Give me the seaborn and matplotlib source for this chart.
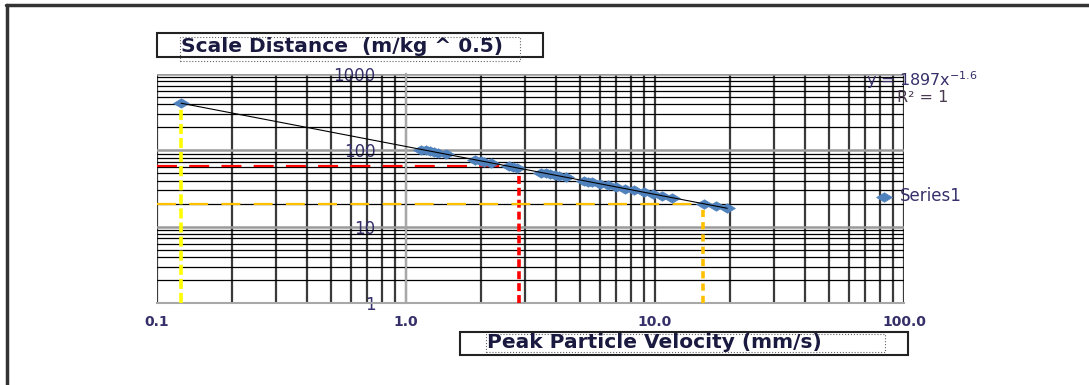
import numpy as np
import matplotlib
matplotlib.use("Agg")
import matplotlib.pyplot as plt
from matplotlib.patches import Rectangle
from matplotlib.lines import Line2D
import seaborn as sns
import pandas as pd

# data (PPV in mm/s, scaled distance in m/kg^0.5)
ppv = [0.125, 1.15, 1.2, 1.25, 1.3, 1.35, 1.45, 1.9, 2.0, 2.05, 2.2, 2.6, 2.7, 2.8,
       3.5, 3.65, 3.8, 3.95, 4.1, 4.4, 5.2, 5.4, 5.6, 6.0, 6.5, 7.0, 7.6, 8.2,
       9.0, 9.8, 10.7, 11.7, 15.8, 17.5, 19.5]
scaled_dist = [420, 102.5, 99.9, 97.4, 95.0, 92.8, 88.7, 74.9, 72.5, 71.4, 68.4, 61.6, 60.1, 58.8,
               51.1, 49.8, 48.6, 47.4, 46.3, 44.3, 39.9, 39.0, 38.1, 36.5, 34.7, 33.2, 31.5, 30.0,
               28.3, 26.9, 25.4, 24.1, 19.9, 18.7, 17.5]

# guide lines (yellow / red / orange)
yellow_x = 0.125
yellow_y = 420
red_x, red_y = 2.85, 62
orange_x, orange_y = 15.6, 20

x_ticks = [0.1, 1, 10, 100]
x_labels = ["0.1", "1.0", "10.0", "100.0"]
y_ticks = [1, 10, 100, 1000]
y_labels = ["1", "10", "100", "1000"]

equation = r"y = 1897x$^{-1.6}$"
r2_text = "R² = 1"
title = "Scale Distance  (m/kg ^ 0.5)"
xlabel = "Peak Particle Velocity (mm/s)"

df = pd.DataFrame({"ppv": ppv, "sd": scaled_dist})

sns.set_style("white")
plt.rcParams["font.family"] = ["DejaVu Sans"]
txt_color = "#35306a"

W, H = 1089, 385
fig = plt.figure(figsize=(W / 100, H / 100), dpi=100)


def fx(px):
    return px / W


def fy(py):
    return 1 - py / H


ax = fig.add_axes([fx(157), fy(303), fx(904) - fx(157), fy(74) - fy(303)])
ax.set_xscale("log")
ax.set_yscale("log")
ax.set_xlim(0.1, 100)
ax.set_ylim(1, 1000)

# grid
ax.set_axisbelow(True)
ax.grid(which="both", axis="x", color="#3a3a3a", lw=1.6)
ax.grid(which="minor", axis="y", color="black", lw=0.9)
ax.grid(which="major", axis="y", color="#9a9a9a", lw=1.8)

for s in ["top", "right"]:
    ax.spines[s].set_visible(False)
ax.spines["left"].set_position(("data", 1.0))
ax.spines["left"].set_color("#a8a8a8")
ax.spines["left"].set_linewidth(1.5)
ax.spines["bottom"].set_color("#a8a8a8")
ax.spines["bottom"].set_linewidth(1.5)

ax.set_xticks(x_ticks)
ax.set_xticklabels(x_labels, fontsize=10, fontweight="bold", color=txt_color)
ax.set_yticks(y_ticks)
ax.set_yticklabels(y_labels, fontsize=12, color=txt_color)
ax.tick_params(axis="x", which="both", direction="out", length=5, color="#a8a8a8", pad=4)
ax.tick_params(axis="y", which="both", length=0, pad=22)

# guide lines
ax.plot([yellow_x, yellow_x], [1, yellow_y], color="#ffff00", lw=2.6, dashes=(2.8, 1.1), zorder=3)
ax.plot([0.1, red_x], [red_y, red_y], color="#ff0000", lw=1.6, dashes=(9, 5.5), zorder=3)
ax.plot([red_x, red_x], [1, red_y], color="#ff0000", lw=2.6, dashes=(2.2, 1.1), zorder=3)
ax.plot([0.1, orange_x], [orange_y, orange_y], color="#ffc000", lw=1.6, dashes=(8.5, 6), zorder=3)
ax.plot([orange_x, orange_x], [1, orange_y], color="#ffc000", lw=2.6, dashes=(2, 1.4), zorder=3)

# power trend line fitted on the data
k, b = np.polyfit(np.log10(df["ppv"]), np.log10(df["sd"]), 1)
xs = np.array([df["ppv"].min(), df["ppv"].max()])
ax.plot(xs, 10 ** (b + k * np.log10(xs)), color="black", lw=0.8, zorder=6)

# Excel-style flat diamond marker
flat_diamond = [(-1, 0), (0, 0.6), (1, 0), (0, -0.6), (-1, 0)]
sns.scatterplot(data=df, x="ppv", y="sd", marker=flat_diamond, s=130, color="#4f81bd",
                edgecolor="#4f81bd", linewidth=0.5, ax=ax, zorder=5, label="Series1")
ax.set_xlabel("")
ax.set_ylabel("")

ax.legend(loc="center left", bbox_to_anchor=(fx(867), fy(196)), bbox_transform=fig.transFigure,
          frameon=False, handletextpad=0.0, borderaxespad=0, borderpad=0,
          prop={"size": 12}, labelcolor=txt_color)

fig.text(fx(866), fy(80), equation, fontsize=11.5, color=txt_color, va="center", ha="left")
fig.text(fx(897), fy(97), r2_text, fontsize=11.5, color="#4a3a50", va="center", ha="left")

# title box
fig.add_artist(Rectangle((fx(157), fy(57)), fx(543) - fx(157), fy(33) - fy(57),
                         transform=fig.transFigure, fill=False, ec="#222222", lw=1.5))
fig.add_artist(Rectangle((fx(180), fy(61)), fx(520) - fx(180), fy(37) - fy(61),
                         transform=fig.transFigure, fill=False, ec="#666666", lw=0.8, ls=":"))
fig.text(fx(181), fy(46), title, fontsize=14.5, fontweight="bold", color="#1a1a40",
         va="center", ha="left")

# x label box
fig.add_artist(Rectangle((fx(460), fy(355)), fx(908) - fx(460), fy(332) - fy(355),
                         transform=fig.transFigure, fill=False, ec="#222222", lw=1.5))
fig.add_artist(Rectangle((fx(486), fy(352)), fx(885) - fx(486), fy(334) - fy(352),
                         transform=fig.transFigure, fill=False, ec="#666666", lw=0.8, ls=":"))
fig.text(fx(487), fy(343), xlabel, fontsize=14.5, fontweight="bold", color="#1a1a40",
         va="center", ha="left")

# page frame (top and left)
fig.add_artist(Line2D([fx(6), 1], [fy(5), fy(5)], transform=fig.transFigure, color="#333333", lw=2.5))
fig.add_artist(Line2D([fx(7), fx(7)], [fy(5), 0], transform=fig.transFigure, color="#333333", lw=2.5))

fig.savefig("out.png", dpi=100)
